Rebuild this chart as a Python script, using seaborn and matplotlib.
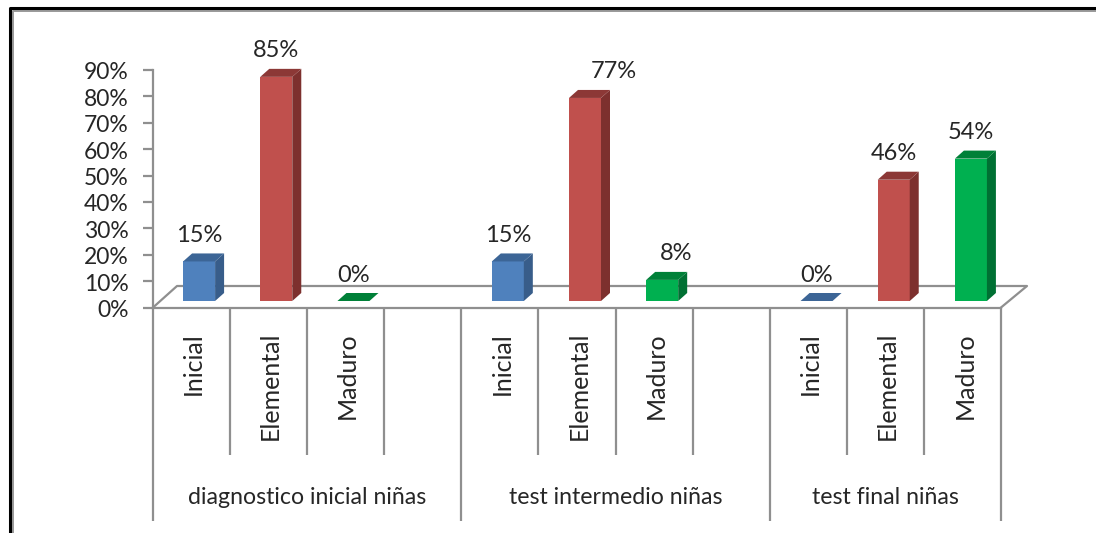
import matplotlib
matplotlib.use('Agg')
import matplotlib.pyplot as plt
from matplotlib.patches import Polygon
from matplotlib.transforms import ScaledTranslation, offset_copy
import pandas as pd
import seaborn as sns

# Datos
groups = ['diagnostico inicial niñas', 'test intermedio niñas', 'test final niñas']
levels = ['Inicial', 'Elemental', 'Maduro']
values_g1 = [15, 85, 0]
values_g2 = [15, 77, 8]
values_g3 = [0, 46, 54]
yticks = [0, 10, 20, 30, 40, 50, 60, 70, 80, 90]

W, H = 1096, 533
DPI = 100
GRAY = '#8f8f8f'
TXT = '#262626'
FRONT = {'Inicial': '#4f81bd', 'Elemental': '#c0504d', 'Maduro': '#00b050'}
SIDE = {'Inicial': '#385d8a', 'Elemental': '#7d302e', 'Maduro': '#007033'}
TOP = {'Inicial': '#3c6596', 'Elemental': '#8c3836', 'Maduro': '#008038'}

plt.rcParams['font.family'] = ['Lato', 'DejaVu Sans']


def box(left, top, right, bottom):
    return [left / W, 1 - bottom / H, (right - left) / W, (bottom - top) / H]


# Tabla larga; los huecos entre grupos quedan como ranuras vacias
rows = []
slot = 0
for grp, vals in zip(groups, [values_g1, values_g2, values_g3]):
    for lev, v in zip(levels, vals):
        rows.append({'slot': slot, 'grupo': grp, 'nivel': lev, 'valor': v})
        slot += 1
    slot += 1
df = pd.DataFrame(rows)
n_slots = slot - 1

fig = plt.figure(figsize=(W / DPI, H / DPI), dpi=DPI, facecolor='white')

# Marco exterior (sin lado derecho) y suelo 3D, en pixeles de la figura
bg = fig.add_axes([0, 0, 1, 1])
bg.set_xlim(0, W)
bg.set_ylim(H, 0)
bg.axis('off')
bg.plot([12.5, 12.5, W], [H, 10.5, 10.5], color='#999999', lw=1.4)
bg.plot([9.5, 9.5, W], [H, 8, 8], color='black', lw=2.2)
bg.plot([153, 177, 1027, 1001], [307.5, 286, 286, 307.5], color=GRAY, lw=1.6)

# Eje con escala real: marcas y etiquetas
ax = fig.add_axes(box(152.5, 70, 1001.5, 307.5))
ax.patch.set_alpha(0)
ax.set_xlim(0, n_slots)
ax.set_ylim(0, 90)
sns.despine(ax=ax)
for s in ['left', 'bottom']:
    ax.spines[s].set_color(GRAY)
    ax.spines[s].set_linewidth(1.6)
ax.set_yticks(yticks)
ax.set_yticklabels([f'{t}%' for t in yticks], fontsize=16.5, color=TXT)
ax.tick_params(axis='y', length=7, width=1.6, color=GRAY, pad=10)
for lab in ax.get_yticklabels():
    lab.set_transform(lab.get_transform() + ScaledTranslation(0, -1 / DPI, fig.dpi_scale_trans))
major = [0, 4, 8, n_slots]
minor = [s for s in range(1, n_slots) if s not in major]
ax.set_xticks(major)
ax.set_xticks(minor, minor=True)
ax.set_xticklabels([])
ax.tick_params(axis='x', which='major', length=(520 - 307.5) * 72 / DPI, width=1.6, color=GRAY)
ax.tick_params(axis='x', which='minor', length=(454 - 307.5) * 72 / DPI, width=1.6, color=GRAY)

# Textos de categoria bajo el eje
xform = ax.get_xaxis_transform()
for _, r in df.iterrows():
    ax.text(r['slot'] + 0.5, 0, r['nivel'],
            transform=offset_copy(xform, fig=fig, x=2, y=-(332 - 307.5), units='dots'),
            rotation=90, ha='center', va='top', fontsize=18, color=TXT, clip_on=False)
for i, grp in enumerate(groups):
    start = df.loc[df['grupo'] == grp, 'slot'].min()
    center = start + 2 if i < 2 else start + 1.5
    ax.text(center, 0, grp,
            transform=offset_copy(xform, fig=fig, y=-(498 - 307.5), units='dots'),
            ha='center', va='center', fontsize=16.7, color=TXT, clip_on=False)

# Barras: mismo ancho de ranura, desplazadas 8 px y con base en el suelo
bars = fig.add_axes(box(160.5, 301 - 90 * 2.637, 1009.5, 301))
bars.patch.set_alpha(0)
full = pd.DataFrame({'slot': range(n_slots)}).merge(df, on='slot', how='left')
sns.barplot(data=full, x='slot', y='valor', hue='nivel', palette=FRONT, dodge=False,
            width=32 / 77.18, legend=False, saturation=1, ax=bars)
bars.set_xlim(-0.5, n_slots - 0.5)
bars.set_ylim(0, 90)
bars.axis('off')

# Caras lateral y superior a partir de cada barra dibujada
dx = 9 / 77.18
dy = 8 / 2.637
level_by_slot = dict(zip(df['slot'], df['nivel']))
value_by_slot = dict(zip(df['slot'], df['valor']))
label_nudge = {5: 29, 6: 14}  # 77% y 8% estan corridas a la derecha
for p in list(bars.patches):
    if p.get_width() == 0 or pd.isna(p.get_height()):
        continue
    x0, w, h = p.get_x(), p.get_width(), p.get_height()
    s = round(x0 + w / 2)
    if s not in level_by_slot:
        continue
    lev = level_by_slot[s]
    x1 = x0 + w
    bars.add_patch(Polygon([(x1, 0), (x1 + dx, dy), (x1 + dx, h + dy), (x1, h)],
                           closed=True, fc=SIDE[lev], ec='none', clip_on=False, zorder=3))
    bars.add_patch(Polygon([(x0, h), (x0 + dx, h + dy), (x1 + dx, h + dy), (x1, h)],
                           closed=True, fc=TOP[lev], ec='none', clip_on=False, zorder=3))
    bars.annotate(f'{value_by_slot[s]}%', (x0 + w / 2, h),
                  xytext=(label_nudge.get(s, 0) * 72 / DPI, 26 * 72 / DPI),
                  textcoords='offset points', ha='center', va='center', fontsize=17,
                  color=TXT, annotation_clip=False)

fig.savefig('out.png', dpi=DPI)
